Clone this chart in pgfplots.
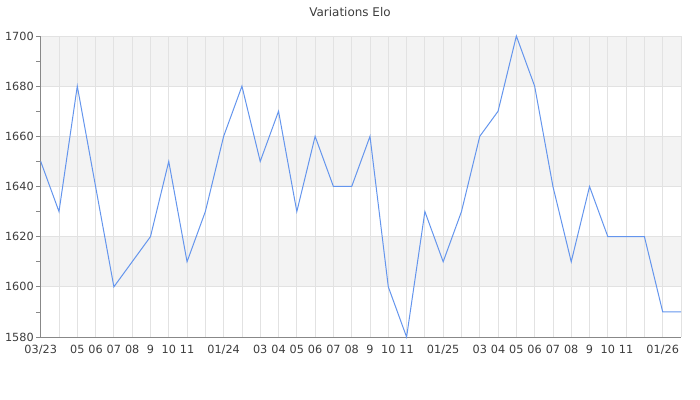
\documentclass[border=0pt]{standalone}
\usepackage{fontspec}
\setmainfont{DejaVu Sans}
\usepackage{pgfplots}
\pgfplotsset{compat=1.18}
\definecolor{txt}{HTML}{3C3C3C}
\definecolor{gridc}{HTML}{E2E2E2}
\definecolor{bandc}{HTML}{F3F3F3}
\definecolor{axc}{HTML}{888888}
\definecolor{linec}{HTML}{6495ED}
\begin{document}
\begin{tikzpicture}
\begin{axis}[
  set layers,
  at={(0,0)}, anchor=south west,
  scale only axis,
  width=640.3bp, height=301bp,
  xmin=0, xmax=35, ymin=1580, ymax=1700,
  axis x line*=bottom, axis y line*=left,
  axis line style={axc, line width=0.9bp},
  xtick={0,...,35},
  xticklabels={03/23,,05,06,07,08,9,10,11,,01/24,,03,04,05,06,07,08,9,10,11,,01/25,,03,04,05,06,07,08,9,10,11,,01/26,},
  ytick={1580,1600,...,1700},
  minor ytick={1590,1610,...,1690},
  xmajorgrids, ymajorgrids,
  major grid style={gridc, line width=0.8bp},
  x tick style={draw=none},
  y tick style={axc, line width=0.8bp},
  major tick length=4.5bp, minor tick length=4.5bp,
  tick align=outside,
  tick label style={font=\fontsize{11.3}{13}\selectfont, text=txt},
  /pgf/number format/assume math mode=true,
  /pgf/number format/1000 sep={},
  yticklabel style={xshift=1bp},
  xticklabel style={yshift=-0.5bp},
  clip=false,
]
\addplot[fill=bandc, draw=none, on layer=axis background] coordinates {(0,1600) (35,1600) (35,1620) (0,1620)} -- cycle;
\addplot[fill=bandc, draw=none, on layer=axis background] coordinates {(0,1640) (35,1640) (35,1660) (0,1660)} -- cycle;
\addplot[fill=bandc, draw=none, on layer=axis background] coordinates {(0,1680) (35,1680) (35,1700) (0,1700)} -- cycle;
\addplot[linec, line width=1bp, mark=none] coordinates {
(0,1650) (1,1630) (2,1680) (3,1640) (4,1600) (5,1610) (6,1620) (7,1650)
(8,1610) (9,1630) (10,1660) (11,1680) (12,1650) (13,1670) (14,1630) (15,1660)
(16,1640) (17,1640) (18,1660) (19,1600) (20,1580) (21,1630) (22,1610) (23,1630)
(24,1660) (25,1670) (26,1700) (27,1680) (28,1640) (29,1610) (30,1640) (31,1620)
(32,1620) (33,1620) (34,1590) (35,1590)
};
\end{axis}
\node[text=txt, font=\fontsize{12}{14}\selectfont] at (309.3bp,325.3bp) {Variations Elo};
\pgfresetboundingbox
\path[use as bounding box] (-40.7bp,-63bp) rectangle (659.3bp,337bp);
\end{tikzpicture}
\end{document}
